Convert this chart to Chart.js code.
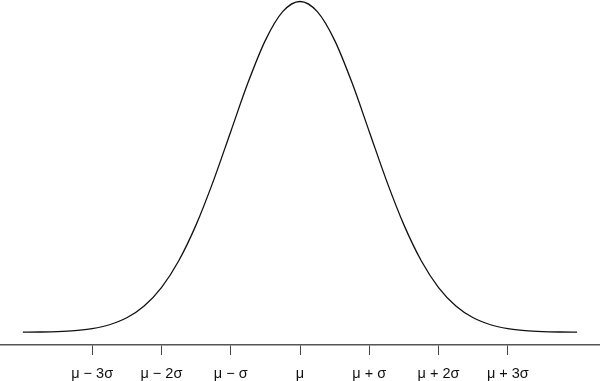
<!DOCTYPE html>
<html>
<head>
<meta charset="utf-8">
<script src="https://cdn.jsdelivr.net/npm/chart.js@4"></script>
<style>
html,body{margin:0;padding:0;background:#fff;}
canvas{display:block;}
</style>
</head>
<body>
<canvas id="c" width="600" height="381"></canvas>
<script>
// x positions in units of sigma from the mean
const xValues = [-4,-3.75,-3.5,-3.25,-3,-2.75,-2.5,-2.25,-2,-1.75,-1.5,-1.25,-1,-0.75,-0.5,-0.25,0,0.25,0.5,0.75,1,1.25,1.5,1.75,2,2.25,2.5,2.75,3,3.25,3.5,3.75,4];
// curve height relative to the peak
const yValues = [0.0003,0.0009,0.0022,0.0051,0.0111,0.0228,0.0439,0.0796,0.1353,0.2163,0.3247,0.4578,0.6065,0.7548,0.8825,0.9692,1,0.9692,0.8825,0.7548,0.6065,0.4578,0.3247,0.2163,0.1353,0.0796,0.0439,0.0228,0.0111,0.0051,0.0022,0.0009,0.0003];
const tickPositions = [-3,-2,-1,0,1,2,3];
const tickLabels = ['μ − 3σ','μ − 2σ','μ − σ','μ','μ + σ','μ + 2σ','μ + 3σ'];

const points = xValues.map((x,i)=>({x:x,y:yValues[i]}));

new Chart(document.getElementById('c'), {
  type: 'line',
  data: {
    datasets: [{
      data: points,
      borderColor: '#111',
      borderWidth: 1.3,
      pointRadius: 0,
      fill: false,
      cubicInterpolationMode: 'monotone',
      clip: false
    }]
  },
  options: {
    responsive: false,
    animation: false,
    devicePixelRatio: 1,
    layout: { padding: 0 },
    plugins: { legend: { display: false }, tooltip: { enabled: false } },
    scales: {
      x: {
        type: 'linear',
        min: -4.33,
        max: 4.33,
        afterBuildTicks: (axis) => { axis.ticks = tickPositions.map(v => ({value: v})); },
        afterFit: (axis) => { axis.height = 36; },
        border: { display: true, color: '#555', width: 1.5 },
        grid: { display: true, drawOnChartArea: false, drawTicks: true, tickLength: 10, color: '#444', lineWidth: 1 },
        ticks: {
          autoSkip: false,
          maxRotation: 0,
          padding: 10,
          color: '#111',
          font: { family: 'Liberation Sans, Arial, sans-serif', size: 14.5 },
          callback: (v) => { const i = tickPositions.indexOf(v); return i >= 0 ? tickLabels[i] : ''; }
        }
      },
      y: {
        display: false,
        min: -0.0384,
        max: 1.0045
      }
    }
  }
});
</script>
</body>
</html>
